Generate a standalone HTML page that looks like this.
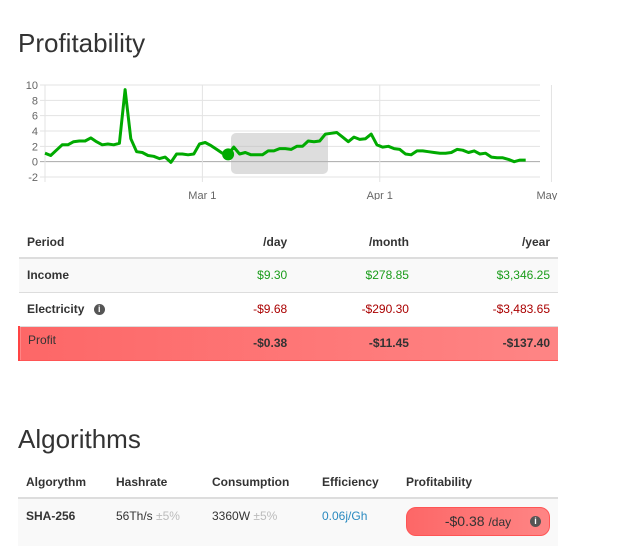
<!DOCTYPE html>
<html><head><meta charset="utf-8"><style>
body{margin:0;width:620px;height:553px;background:#fff;font-family:"Liberation Sans",sans-serif;color:#333;position:relative;overflow:hidden}
.abs{position:absolute}
h2{position:absolute;margin:0;font-weight:normal;font-size:26px;color:#333;left:18px}
table{position:absolute;border-collapse:collapse;font-size:12px}
th{font-weight:bold;color:#333}
.t1{left:18px;top:226px;width:540px}
.t1 th,.t1 td{padding:0 8px;text-align:right}
.t1 th:first-child,.t1 td:first-child{text-align:left;font-weight:bold}
.t1 thead tr{height:32px;border-bottom:2px solid #ddd}
.t1 tbody tr{height:34px;border-bottom:1px solid #ddd}
.g{color:#1a9c1a}.r{color:#a00}
.info{display:inline-block;width:11px;height:11px;border-radius:50%;background:#555;color:#fff;font-size:9px;line-height:11px;text-align:center;font-weight:bold;vertical-align:middle;margin-left:6px}
.t2{left:18px;top:466px;width:540px}
.t2 th,.t2 td{text-align:left;padding:0 8px}
.t2 thead tr{height:32px;border-bottom:2px solid #ddd}
.t2 tbody tr{height:48px;background:#f9f9f9}
.t2 td{vertical-align:top;padding-top:10px}
.mut{color:#bbb}
</style></head><body>
<h2 style="top:28px">Profitability</h2>
<svg class="abs" style="left:0;top:70px" width="560" height="130" id="chart"></svg>
<table class="t1">
<thead><tr><th>Period</th><th>/day</th><th>/month</th><th>/year</th></tr></thead>
<tbody>
<tr style="background:#f9f9f9"><td>Income</td><td class="g">$9.30</td><td class="g">$278.85</td><td class="g">$3,346.25</td></tr>
<tr><td>Electricity <span class="info">i</span></td><td class="r">-$9.68</td><td class="r">-$290.30</td><td class="r">-$3,483.65</td></tr>
<tr style="background:linear-gradient(90deg,#fd6767,#fe8585);border-left:2px solid #f44;border-bottom:1px solid #f55"><td style="font-weight:normal;padding-bottom:6px">Profit</td><td style="font-weight:bold">-$0.38</td><td style="font-weight:bold">-$11.45</td><td style="font-weight:bold">-$137.40</td></tr>
</tbody></table>
<h2 style="top:424px">Algorithms</h2>
<table class="t2">
<thead><tr><th style="width:74px">Algorythm</th><th style="width:80px">Hashrate</th><th style="width:94px">Consumption</th><th style="width:68px">Efficiency</th><th>Profitability</th></tr></thead>
<tbody><tr><td style="font-weight:bold">SHA-256</td><td>56Th/s <span class="mut">±5%</span></td><td>3360W <span class="mut">±5%</span></td><td style="color:#2a8ac0">0.06j/Gh</td>
<td style="padding-top:8px"><div style="width:144px;height:29px;border-radius:10px;background:linear-gradient(90deg,#fd6767,#fe8585);border:1px solid #f55;box-sizing:border-box;position:relative;font-size:14px;line-height:27px;text-align:center;color:#333">-$0.38 <span style="font-size:12px">/day</span><span class="info" style="position:absolute;right:8px;top:8px;margin:0">i</span></div></td></tr></tbody></table>
<script>
const values=[1.1,0.8,1.5,2.2,2.2,2.6,2.7,2.7,3.1,2.6,2.2,2.3,2.2,2.4,9.4,3.0,1.3,1.2,0.8,0.7,0.4,0.6,-0.1,1.0,1.0,0.9,1.0,2.3,2.5,2.1,1.6,1.1,0.95,1.9,1.0,1.2,0.9,0.9,0.9,1.4,1.4,1.7,1.7,1.6,2.0,2.0,2.7,2.6,2.7,3.6,3.7,3.8,3.2,2.6,3.2,2.9,3.0,3.6,2.2,1.9,2.0,1.7,1.6,1.0,0.9,1.4,1.4,1.3,1.2,1.1,1.1,1.2,1.6,1.5,1.2,1.4,1.0,1.1,0.6,0.5,0.5,0.3,0.0,0.2,0.2];
const yTicks=[10,8,6,4,2,0,-2];
const xTickLabels=["Mar 1","Apr 1","May 1"];
const xTickDays=[27.5,58.5,88.5];
const hoverIndex=32;
const svg=document.getElementById('chart');const NS='http://www.w3.org/2000/svg';
const L=45,R=540,T=15,B=107,n=values.length;
const x=i=>L+i*(R-L)/(n-1+2.5);
const y=v=>T+(10-v)*(B-T)/12;
function mk(t,a){const e=document.createElementNS(NS,t);for(const k in a)e.setAttribute(k,a[k]);svg.appendChild(e);return e;}
yTicks.forEach(v=>{const l=mk('line',{x1:L-5,x2:R,y1:y(v),y2:y(v),stroke:v===0?'#aaa':'#e3e3e3'});
const t=mk('text',{x:L-7,y:y(v)+4,'text-anchor':'end','font-size':11,fill:'#666'});t.textContent=v;});
mk('line',{x1:L,x2:L,y1:T,y2:B+5,stroke:'#e3e3e3'});
xTickDays.forEach((d,i)=>{const l=mk('line',{x1:x(d),x2:x(d),y1:T,y2:B+5,stroke:'#e3e3e3'});
const t=mk('text',{x:x(d),y:B+22,'text-anchor':'middle','font-size':11,fill:'#666'});t.textContent=xTickLabels[i];});
const tip=mk('rect',{x:231,y:63,width:97,height:41,rx:5,fill:'rgba(180,180,180,0.45)'});
const p=mk('path',{d:values.map((v,i)=>(i?'L':'M')+x(i).toFixed(1)+' '+y(v).toFixed(1)).join(''),fill:'none',stroke:'#0a0','stroke-width':3,'stroke-linejoin':'round'});

const c=mk('circle',{cx:x(hoverIndex),cy:y(values[hoverIndex]),r:6,fill:'#0a0'});
</script>
</body></html>
